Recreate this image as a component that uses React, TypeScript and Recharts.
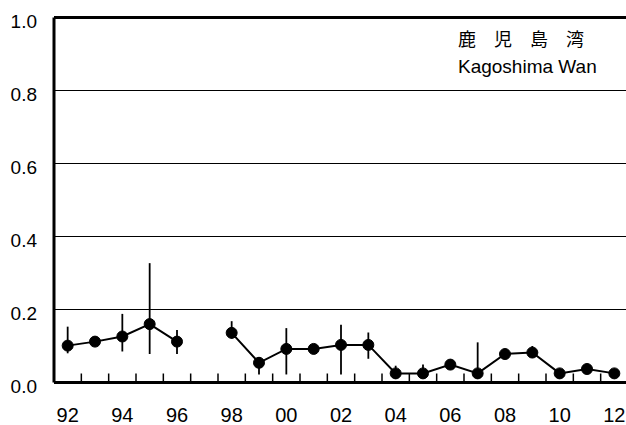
import React from "react";
import {
  LineChart,
  Line,
  XAxis,
  YAxis,
  CartesianGrid,
  ReferenceLine,
  ErrorBar,
} from "recharts";

// yearly survey values (1997 missing)
const years = [1992, 1993, 1994, 1995, 1996, 1997, 1998, 1999, 2000, 2001, 2002, 2003, 2004, 2005, 2006, 2007, 2008, 2009, 2010, 2011, 2012];
const values = [0.101, 0.112, 0.126, 0.16, 0.112, null, 0.136, 0.054, 0.092, 0.092, 0.103, 0.103, 0.025, 0.025, 0.049, 0.025, 0.078, 0.082, 0.025, 0.037, 0.025];
// range bars: lower / upper end
const lows = [0.08, null, 0.085, 0.078, 0.078, null, 0.12, 0.022, 0.022, null, 0.022, 0.065, 0.01, 0.012, null, 0.01, null, 0.068, null, null, null];
const highs = [0.153, null, 0.188, 0.327, 0.144, null, 0.168, 0.07, 0.149, null, 0.158, 0.137, 0.046, 0.049, null, 0.11, null, 0.1, null, null, null];

const xTicks = [1992, 1994, 1996, 1998, 2000, 2002, 2004, 2006, 2008, 2010, 2012];
const xLabels = ["92", "94", "96", "98", "00", "02", "04", "06", "08", "10", "12"];
const minorTicks = [1992.5, 1993.5, 1994.5, 1995.5, 1996.5, 1997.5, 1998.5, 1999.5, 2000.5, 2001.5, 2002.5, 2003.5, 2004.5, 2005.5, 2006.5, 2007.5, 2008.5, 2009.5, 2010.5, 2011.5];
const yTicks = [0, 0.2, 0.4, 0.6, 0.8, 1.0];

const data = years.map((year, i) => {
  const v = values[i];
  const lo = lows[i];
  const hi = highs[i];
  return {
    year,
    value: v,
    err: v != null && lo != null && hi != null ? [v - lo, hi - v] : null,
  };
});

const font = "'Liberation Sans', Arial, sans-serif";
const TICK_SIZE = 6;
const TICK_MARGIN = 19;

// labels on even years, short inward marks between years
const YearTick = (props: any) => {
  const { x, y, payload } = props;
  const i = xTicks.indexOf(payload.value);
  if (i < 0) {
    const axisY = y - TICK_SIZE - TICK_MARGIN;
    return <line x1={x} x2={x} y1={axisY} y2={axisY - 9} stroke="#000" strokeWidth={1.5} />;
  }
  return (
    <text x={x} y={y} dy="0.71em" textAnchor="middle" fill="#000" fontSize={20} fontFamily={font}>
      {xLabels[i]}
    </text>
  );
};

export default function App() {
  return (
    <div style={{ position: "absolute", left: 0, top: 0, width: 626, height: 425, overflow: "hidden", background: "#fff" }}>
      <LineChart width={640} height={425} data={data} margin={{ top: 17.5, right: 12, left: 0, bottom: 0 }}>
        <CartesianGrid vertical={false} stroke="#000" strokeWidth={1} />
        <XAxis
          dataKey="year"
          type="number"
          domain={[1991.5, 2012.5]}
          ticks={[...minorTicks, ...xTicks]}
          interval={0}
          height={42.5}
          tickSize={TICK_SIZE}
          tickLine={false}
          tickMargin={TICK_MARGIN}
          axisLine={{ stroke: "#000", strokeWidth: 3 }}
          tick={<YearTick />}
        />
        <YAxis
          type="number"
          domain={[0, 1]}
          ticks={yTicks}
          width={54}
          tickLine={false}
          tickMargin={11}
          tickFormatter={(v: number) => v.toFixed(1)}
          axisLine={{ stroke: "#000", strokeWidth: 3 }}
          tick={{ fill: "#000", fontSize: 19, fontFamily: font, dy: 4 }}
        />
        <ReferenceLine y={1} stroke="#000" strokeWidth={3} />
        <ReferenceLine x={2012.5} stroke="#000" strokeWidth={3} />
        <Line
          dataKey="value"
          stroke="#000"
          strokeWidth={2}
          dot={{ r: 5.5, fill: "#000", stroke: "#000", strokeWidth: 1 }}
          activeDot={false}
          isAnimationActive={false}
        >
          <ErrorBar dataKey="err" direction="y" width={0} stroke="#000" strokeWidth={1.8} />
        </Line>
      </LineChart>
      <div
        style={{
          position: "absolute",
          left: 458,
          top: 29,
          fontFamily: "'Noto Sans CJK JP', sans-serif",
          fontSize: 18,
          lineHeight: 1,
          letterSpacing: 18,
          color: "#000",
          whiteSpace: "nowrap",
        }}
      >
        鹿児島湾
      </div>
      <div
        style={{
          position: "absolute",
          left: 458,
          top: 57,
          fontFamily: font,
          fontSize: 19,
          lineHeight: 1,
          color: "#000",
          whiteSpace: "nowrap",
        }}
      >
        Kagoshima Wan
      </div>
    </div>
  );
}
